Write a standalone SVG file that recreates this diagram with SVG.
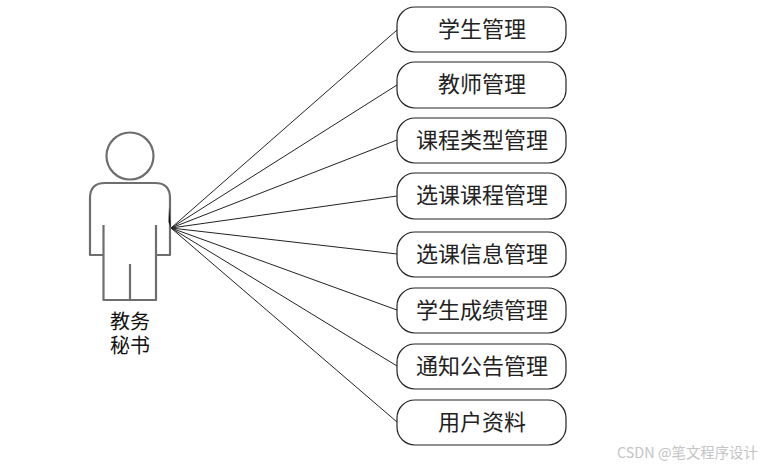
<svg xmlns="http://www.w3.org/2000/svg" width="766" height="467" viewBox="0 0 766 467">
<style>
.n{fill:#fff;stroke:#222;stroke-width:1.2}
.t{font-family:"Liberation Serif","Noto Sans CJK SC",serif;font-size:22px;fill:#222;text-anchor:middle;dominant-baseline:central}
.c{stroke:#222;stroke-width:1;fill:none}
.a{fill:none;stroke:#6e6e6e;stroke-width:2.2;stroke-linejoin:round;filter:blur(.4px)}
.l{font-family:"Noto Sans CJK SC",sans-serif;font-size:20px;fill:#111;text-anchor:middle}
.w{font-family:"Noto Sans CJK SC",sans-serif;font-size:14.4px;fill:#c4c4c4}
</style>
<rect width="766" height="467" fill="#fff"/>
<g id="connectors">
<path class="c" d="M171 228L397 30"/>
<path class="c" d="M171 228L397 85"/>
<path class="c" d="M171 228L397 140"/>
<path class="c" d="M171 228L397 196"/>
<path class="c" d="M171 228L397 254"/>
<path class="c" d="M171 228L397 310"/>
<path class="c" d="M171 228L397 366"/>
<path class="c" d="M171 228L397 422"/>
</g>
<g id="actor">
<circle class="a" cx="130" cy="156" r="23.500"/>
<path class="a" d="M103.500 225V255H90V198Q90 183 105 183H155Q170 183 170 198V255H156V225M103.500 255V300H156V255M130 264V300"/>
<path d="M169 207L171 228L168.500 222Z" fill="#111"/>
<text class="l" x="130" y="329">教务<tspan x="130" dy="24">秘书</tspan></text>
</g>
<g id="node1"><rect class="n" x="397" y="7" width="169" height="45" rx="18"/><text class="t" x="482" y="29">学生管理</text></g>
<g id="node2"><rect class="n" x="397" y="62" width="169" height="46" rx="18"/><text class="t" x="482" y="84">教师管理</text></g>
<g id="node3"><rect class="n" x="397" y="118" width="169" height="45" rx="18"/><text class="t" x="482" y="140">课程类型管理</text></g>
<g id="node4"><rect class="n" x="397" y="173" width="169" height="46" rx="18"/><text class="t" x="482" y="195">选课课程管理</text></g>
<g id="node5"><rect class="n" x="397" y="232" width="169" height="45" rx="18"/><text class="t" x="482" y="254">选课信息管理</text></g>
<g id="node6"><rect class="n" x="397" y="288" width="169" height="45" rx="18"/><text class="t" x="482" y="310">学生成绩管理</text></g>
<g id="node7"><rect class="n" x="397" y="344" width="169" height="45" rx="18"/><text class="t" x="482" y="366">通知公告管理</text></g>
<g id="node8"><rect class="n" x="397" y="400" width="169" height="45" rx="18"/><text class="t" x="482" y="422">用户资料</text></g>
<text class="w" x="617" y="458">CSDN @笔文程序设计</text>
</svg>
